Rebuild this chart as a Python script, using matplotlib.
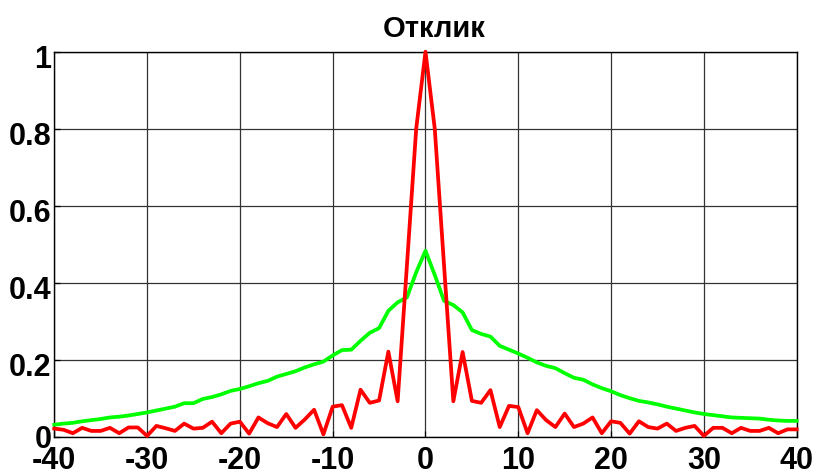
import numpy as np
import matplotlib
matplotlib.use('Agg')
from matplotlib import pyplot as plt
from matplotlib.transforms import ScaledTranslation

plt.rcParams['font.family'] = ['Liberation Sans', 'DejaVu Sans']

# lag values
xs = list(range(-40, 41))

# wide response (green)
resp_wide = [0.031, 0.034, 0.036, 0.040, 0.043, 0.046, 0.050, 0.052, 0.055, 0.059,
             0.063, 0.068, 0.073, 0.078, 0.087, 0.087, 0.098, 0.103, 0.110, 0.119,
             0.124, 0.131, 0.139, 0.145, 0.156, 0.163, 0.170, 0.180, 0.188, 0.195,
             0.211, 0.225, 0.226, 0.249, 0.270, 0.282, 0.327, 0.349, 0.362, 0.427,
             0.483,
             0.420, 0.353, 0.342, 0.323, 0.277, 0.267, 0.260, 0.236, 0.226, 0.216,
             0.205, 0.193, 0.184, 0.178, 0.165, 0.153, 0.148, 0.136, 0.126, 0.118,
             0.108, 0.100, 0.093, 0.089, 0.084, 0.078, 0.073, 0.068, 0.063, 0.059,
             0.056, 0.053, 0.050, 0.049, 0.048, 0.047, 0.044, 0.042, 0.041, 0.041]

# narrow response (red)
resp_narrow = [0.021, 0.018, 0.009, 0.023, 0.015, 0.015, 0.023, 0.009, 0.024, 0.024,
               0.002, 0.028, 0.022, 0.015, 0.034, 0.021, 0.023, 0.039, 0.009, 0.034,
               0.039, 0.008, 0.050, 0.035, 0.025, 0.059, 0.023, 0.045, 0.070, 0.006,
               0.078, 0.082, 0.023, 0.122, 0.088, 0.094, 0.221, 0.092, 0.445, 0.800,
               1.000,
               0.800, 0.445, 0.092, 0.220, 0.093, 0.088, 0.121, 0.025, 0.080, 0.077,
               0.009, 0.069, 0.043, 0.025, 0.060, 0.025, 0.034, 0.050, 0.009, 0.040,
               0.036, 0.008, 0.040, 0.025, 0.021, 0.034, 0.015, 0.023, 0.028, 0.002,
               0.023, 0.023, 0.009, 0.023, 0.015, 0.015, 0.023, 0.009, 0.019, 0.019]

x_ticks = [-40, -30, -20, -10, 0, 10, 20, 30, 40]
y_ticks = [0, 0.2, 0.4, 0.6, 0.8, 1]
y_labels = ['0', '0.2', '0.4', '0.6', '0.8', '1']


def main():
    fig = plt.figure(figsize=(8.21, 4.77), dpi=100)
    ax = fig.add_axes([0.0661, 0.0824, 0.9043, 0.8071])

    ax.plot(xs, resp_wide, color='#00ff00', lw=2.7, clip_on=False, zorder=3)
    ax.plot(xs, resp_narrow, color='#ff0000', lw=2.7, clip_on=False, zorder=4)

    ax.set_xlim(-40, 40)
    ax.set_ylim(0, 1)
    ax.set_xticks(x_ticks)
    ax.set_xticklabels([str(t) for t in x_ticks])
    ax.set_yticks(y_ticks)
    ax.set_yticklabels(y_labels)

    ax.grid(True, color='0.2', lw=0.9)
    ax.set_axisbelow(True)
    ax.tick_params(direction='in', length=4, width=0.9, labelsize=22)
    ax.tick_params(axis='x', pad=6)
    ax.tick_params(axis='y', pad=2)
    for lab in ax.get_xticklabels() + ax.get_yticklabels():
        lab.set_fontweight('bold')
    # push y labels down a little (the bottom one goes up instead)
    for i, lab in enumerate(ax.get_yticklabels()):
        dy = 1 if i == 0 else -4
        off = ScaledTranslation(0, dy / 100, fig.dpi_scale_trans)
        lab.set_transform(lab.get_transform() + off)

    for s in ax.spines.values():
        s.set_color('black')
        s.set_linewidth(1.0)

    ax.set_title('Отклик', fontsize=21, fontweight='bold', x=0.512, pad=11)

    fig.savefig('out.png', dpi=100)


if __name__ == '__main__':
    main()
